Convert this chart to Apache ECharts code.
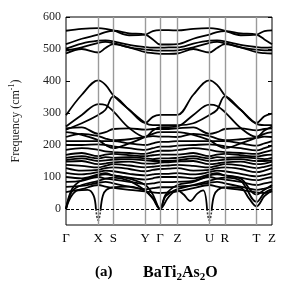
<!DOCTYPE html>
<html><head><meta charset="utf-8">
<script src="https://cdn.jsdelivr.net/npm/echarts@6/dist/echarts.min.js"></script>
<style>html,body{margin:0;padding:0;background:#fff}#c{width:300px;height:287px}</style>
</head><body><div id="c"></div>
<script>
// high-symmetry path
const kNodes = [0, 32.7, 48, 80.3, 95.3, 113, 145.3, 161, 193, 208.7];
const kLabels = ['Γ','X','S','Y','Γ','Z','U','R','T','Z'];
// common sampling grid: nodes + mid points
const kGrid = [0,16,32.7,40,48,64,80.3,88,95.3,104,113,129,145.3,153,161,177,193,201,208.7];
const yTicks = [0,100,200,300,400,500,600];

// upper (O-like) bands, frequencies in cm-1 at kGrid
const upperBands = [
  [557,563,565,563,558,543,545,556,559,559,558,563,565,563,557,543,545,556,558],
  [515,532,545,553,557,549,545,530,514,514,515,532,545,553,556,549,545,530,515],
  [501,517,526,527,524,513,506,504,504,505,505,517,526,527,524,513,506,504,505],
  [495,505,519,522,518,505,498,496,495,495,496,505,519,522,518,505,498,496,496],
  [486,500,489,503,515,505,490,487,485,485,486,500,489,503,515,505,490,487,486]
];
// middle bands (250-400 cm-1)
const midBands = [
  [293,357,402,388,355,310,269,288,294,294,294,357,402,388,355,310,269,290,298],
  [258,294,328,325,305,253,225,245,256,256,258,294,326,322,303,253,225,245,258],
  [248,268,294,310,352,310,269,262,262,262,262,268,294,310,352,310,266,262,262]
];
// lower optical bands
const lowBands = [
  [53,62,75,70,66,60,55,52,50,52,55,65,75,70,66,60,52,50,55],
  [69,72,82,85,80,70,62,65,68,68,70,74,82,85,80,70,60,64,70],
  [85,88,100,95,92,85,78,80,84,84,85,88,100,95,92,85,75,80,85],
  [100,96,108,112,105,98,92,96,100,100,100,96,108,112,105,98,90,95,100],
  [113,108,115,120,118,110,105,108,110,110,112,108,115,120,118,110,102,106,112],
  [128,120,122,128,130,125,118,122,125,126,128,120,122,128,130,125,115,120,128],
  [138,135,130,135,140,136,130,132,135,136,138,135,130,135,140,136,128,132,138],
  [148,150,140,142,146,148,142,142,145,146,148,150,140,142,146,148,140,142,148],
  [153,158,150,152,154,156,152,150,150,150,152,158,150,152,154,156,150,150,152],
  [160,165,158,162,160,162,158,156,158,158,160,165,158,162,160,162,158,156,160],
  [169,175,165,170,172,168,165,168,170,170,170,175,165,170,172,168,164,168,170],
  [185,190,185,180,178,175,172,178,182,182,184,190,185,180,178,175,172,178,184],
  [200,200,202,200,196,190,185,190,195,195,198,200,202,200,196,190,183,190,198],
  [212,212,212,212,212,205,200,205,210,210,212,212,212,212,212,205,198,205,212],
  [225,235,228,220,215,218,225,228,226,226,225,235,228,220,215,218,222,226,225],
  [240,232,215,200,190,205,225,235,240,240,240,232,215,200,190,205,223,235,240],
  [252,255,235,240,250,252,248,250,250,250,252,255,235,240,250,252,246,250,252]
];
// acoustic branches (own k sampling)
const acK = [0,6,16,32.7,40,48,64,80.3,88,95.3,101,113,129,145.3,153,161,177,193,201,208.7];
const ac2 = [0,55,75,88,95,98,88,58,35,0,40,62,75,88,95,98,88,22,50,62];
const ac3 = [0,62,90,105,108,105,95,75,45,0,45,75,85,105,108,105,95,45,60,75];
// unstable branch, split where it becomes imaginary
const un1K = [0,5,12,22,28,30.3];
const un1V = [0,38,58,60,42,0];
const un2K = [35.1,37.4,41,48,64,80.3,88,95.3,104,113,119,126,133,139,142.9];
const un2V = [0,42,60,68,70,56,32,0,38,58,46,25,48,58,0];
const un3K = [147.7,150,154,161,177,185,193,201,208.7];
const un3V = [0,42,60,68,66,35,8,40,58];
const dipXK = [30.3,31.5,32.7,33.9,35.1];
const dipXV = [0,-26,-35,-26,0];
const dipUK = [142.9,144.1,145.3,146.5,147.7];
const dipUV = [0,-26,-35,-26,0];

const zip = (ks, vs) => ks.map((k, i) => [k, vs[i]]);
const series = [];
const band = (data) => ({
  type: 'line', data, showSymbol: false, smooth: 0.35, z: 3, silent: true,
  lineStyle: {color: '#000', width: 1.8}, animation: false
});
[...upperBands, ...midBands, ...lowBands].forEach(v => series.push(band(zip(kGrid, v))));
series.push(band(zip(acK, ac2)));
series.push(band(zip(acK, ac3)));
series.push(band(zip(un1K, un1V)));
series.push(band(zip(un2K, un2V)));
series.push(band(zip(un3K, un3V)));
[[dipXK, dipXV], [dipUK, dipUV]].forEach(([k, v]) => series.push({
  type: 'line', data: zip(k, v), showSymbol: false, smooth: 0.5, z: 3, silent: true,
  lineStyle: {color: '#333', width: 1.6, type: [2, 1.5]}, animation: false
}));
// guide lines
series.push({
  type: 'line', data: [], z: 1, silent: true, animation: false,
  markLine: {
    symbol: 'none', silent: true, animation: false, label: {show: false},
    data: [
      ...kNodes.slice(1, -1).map(k => ({xAxis: k, lineStyle: {color: '#9a9a9a', width: 1.4, type: 'solid'}})),
      {yAxis: 0, lineStyle: {color: '#000', width: 1, type: [3, 2]}}
    ]
  }
});

const serif = '"Liberation Serif", "DejaVu Serif", serif';
const chart = echarts.init(document.getElementById('c'), null, {renderer: 'canvas'});
chart.setOption({
  animation: false,
  grid: {left: 63, right: 28, top: 17, bottom: 62, show: true, borderColor: '#000', borderWidth: 1, backgroundColor: 'transparent'},
  title: [
    {text: '(a)', left: 90, top: 260, textStyle: {fontFamily: serif, fontSize: 15, fontWeight: 'bold', color: '#000'}},
    {text: '{b|BaTi}{s|2}{b|As}{s|2}{b|O}', left: 138, top: 258,
     textStyle: {rich: {
       b: {fontFamily: serif, fontSize: 16, fontWeight: 'bold', color: '#000', lineHeight: 20},
       s: {fontFamily: serif, fontSize: 11, fontWeight: 'bold', color: '#000', lineHeight: 20, padding: [8, 0, 0, 0]}
     }}}
  ],
  xAxis: {
    type: 'value', min: 0, max: 208.7,
    axisLine: {show: false}, axisTick: {show: false}, splitLine: {show: false},
    axisLabel: {
      customValues: kNodes, margin: 7, fontFamily: serif, fontSize: 13, color: '#000',
      formatter: v => { let b = 0; kNodes.forEach((k, i) => { if (Math.abs(k - v) < Math.abs(kNodes[b] - v)) b = i; }); return kLabels[b]; }
    }
  },
  yAxis: [
    {
      type: 'value', min: -50, max: 600, position: 'left',
      name: '{n|Frequency (cm}{p|-1}{n|)}', nameLocation: 'middle', nameGap: 43, nameRotate: 90,
      nameTextStyle: {rich: {
        n: {fontFamily: serif, fontSize: 12, color: '#222'},
        p: {fontFamily: serif, fontSize: 8, color: '#222', padding: [0, 0, 7, 0]}
      }},
      axisLine: {show: false}, splitLine: {show: false},
      axisTick: {show: true, inside: true, length: 4, customValues: yTicks, lineStyle: {color: '#000'}},
      axisLabel: {customValues: yTicks, margin: 5, fontFamily: serif, fontSize: 12, color: '#222'}
    },
    {
      type: 'value', min: -50, max: 600, position: 'right',
      axisLine: {show: false}, splitLine: {show: false},
      axisTick: {show: true, inside: true, length: 4, customValues: yTicks, lineStyle: {color: '#000'}},
      axisLabel: {show: false}
    }
  ],
  series
});
</script></body></html>
